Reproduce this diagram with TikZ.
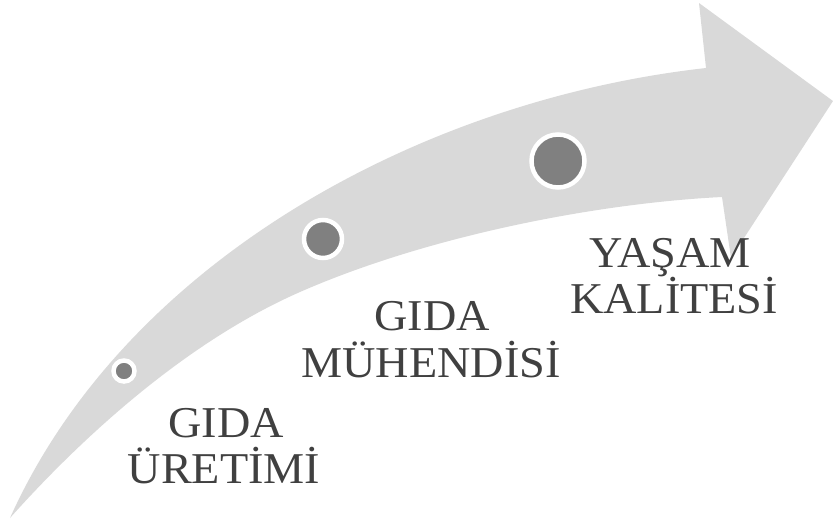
\documentclass[tikz,border=0pt]{standalone}
\usepackage{fontspec}
\setmainfont{Liberation Serif}
\definecolor{arrowgray}{HTML}{D9D9D9}
\definecolor{dotgray}{HTML}{808080}
\definecolor{textgray}{HTML}{404040}
\begin{document}
\begin{tikzpicture}[x=1pt,y=-1pt,
  dot/.style={circle,fill=dotgray,draw=white,line width=4.5pt,inner sep=0pt},
  lbl/.style={text=textgray,font=\fontsize{44}{47}\selectfont,anchor=base,inner sep=0pt,xscale=1.05}]
\useasboundingbox (0,0) rectangle (833,520);
\fill[arrowgray]
  (10,518) .. controls (125,262) and (420,100) .. (706,68)
  -- (699,3) -- (833,101) -- (731,258) -- (722,197)
  .. controls (600,203) and (430,235) .. (300,292)
  .. controls (170,349) and (60,462) .. (10,518)
  -- cycle;
\node[dot,minimum size=21pt] (d1) at (124,371) {};
\node[dot,minimum size=38pt] (d2) at (323,239) {};
\node[dot,minimum size=53pt] (d3) at (558,161) {};
\node[lbl] (t1a) at (226,437) {GIDA};
\node[lbl] (t1b) at (224,483) {ÜRETİMİ};
\node[lbl] (t2a) at (432,330) {GIDA};
\node[lbl] (t2b) at (431,377) {MÜHENDİSİ};
\node[lbl] (t3a) at (670,267) {YAŞAM};
\node[lbl] (t3b) at (674,313) {KALİTESİ};
\end{tikzpicture}
\end{document}
